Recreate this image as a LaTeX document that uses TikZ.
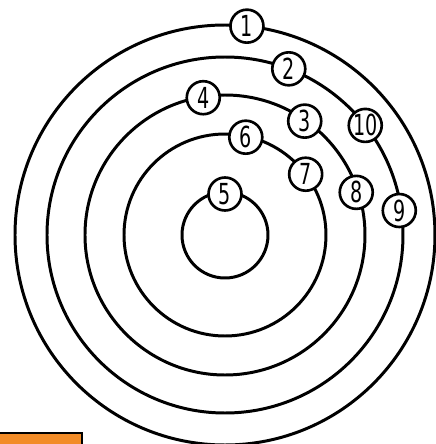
\documentclass[tikz,border=0pt]{standalone}
\usepackage{fontspec}
\setsansfont[FakeStretch=0.66]{DejaVu Sans}
\definecolor{tagorange}{HTML}{F28C28}

\begin{document}
\begin{tikzpicture}[x=0.02cm, y=0.02cm]
\tikzstyle{ring} = [draw, line width=1.7pt]
\tikzstyle{num} = [circle, draw, fill=white, line width=1.5pt, minimum size=0.66cm, inner sep=0pt, font=\sffamily\fontsize{16.5}{16.5}\selectfont]

\useasboundingbox (-225,-209) rectangle (211,235);

% rings, all round one centre
\path [ring] (0,0) circle (210);
\path [ring] (0,0) circle (178);
\path [ring] (0,0) circle (140);
\path [ring] (0,0) circle (101);
\path [ring] (0,0) circle (43);

\node [num] (n1) at (84:210) {1};
\node [num] (n2) at (69:178) {2};
\node [num] (n10) at (38:178) {10};
\node [num] (n9) at (8:176) {9};
\node [num] (n4) at (99:139) {4};
\node [num] (n3) at (55:139) {3};
\node [num] (n8) at (18:138) {8};
\node [num] (n6) at (78:100) {6};
\node [num] (n7) at (37:101) {7};
\node [num] (n5) at (90:41) {5};

% orange tag, bottom left
\fill [tagorange] (-226,-198) rectangle (-143,-210);
\draw [line width=1.7pt] (-226,-198) -- (-143,-198) -- (-143,-210);

\end{tikzpicture}
\end{document}
